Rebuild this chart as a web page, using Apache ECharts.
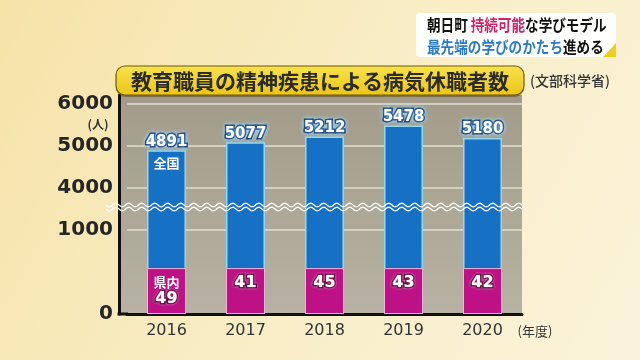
<!DOCTYPE html>
<html><head><meta charset="utf-8">
<script src="https://cdn.jsdelivr.net/npm/echarts@6/dist/echarts.min.js"></script>
<style>html,body{margin:0;padding:0;}#c{width:640px;height:360px;}</style>
</head><body><div id="c"></div>
<script>
// ---- data ----
const YEARS = ['2016', '2017', '2018', '2019', '2020'];
const NATIONAL = [4891, 5077, 5212, 5478, 5180];   // 全国
const PREFECTURE = [49, 41, 45, 43, 42];           // 県内
const Y_TICK_LABELS = ['0', '', '1000', '4000', '5000', '6000']; // at broken-axis units 0,1000,...,5000

// broken axis: 0-1000 drawn double scale, above the break shifted down by 1000
function toAxis(v) { return v <= 1000 ? v * 2 : v - 1000; }
const AXIS_MAX = 5200;
const WAVE_AT = 2540;        // break position in axis units
const PREF_BAR_AXIS = 1090;  // fixed display height of the prefecture segment (not to scale)

const GRID_LEFT = 127, GRID_RIGHT = 118, GRID_TOP = 95, GRID_BOTTOM = 46, Y_OFFSET = 8;
const FONT_JP = '"Noto Sans CJK JP", "Noto Sans", sans-serif';

const chart = echarts.init(document.getElementById('c'));
chart.setOption({
  animation: false,
  backgroundColor: {
    type: 'linear', x: 0, y: 0, x2: 1, y2: 1,
    colorStops: [{offset: 0, color: '#f5e3a8'}, {offset: 0.55, color: '#f9eec8'}, {offset: 1, color: '#fbf3da'}]
  },
  grid: {left: GRID_LEFT, right: GRID_RIGHT, top: GRID_TOP, bottom: GRID_BOTTOM, containLabel: false},
  xAxis: {
    type: 'category', data: YEARS,
    axisLine: {lineStyle: {color: '#111', width: 3}},
    axisTick: {show: false},
    axisLabel: {fontFamily: 'DejaVu Sans', fontSize: 16, color: '#333', margin: 9}
  },
  yAxis: {
    type: 'value', min: 0, max: AXIS_MAX, interval: 1000, offset: Y_OFFSET,
    axisLine: {show: true, lineStyle: {color: '#111', width: 3}},
    axisTick: {show: false},
    axisLabel: {
      fontFamily: 'DejaVu Sans', fontWeight: 'bold', fontSize: 20, color: '#262626', margin: 6,
      formatter: v => { const s = Y_TICK_LABELS[v / 1000]; return s === undefined ? '' : s; }
    },
    splitLine: {show: true, lineStyle: {width: 1.5,
      color: ['rgba(0,0,0,0)', 'rgba(0,0,0,0)', '#e4dfd0', '#e4dfd0', '#e4dfd0', '#e4dfd0', 'rgba(0,0,0,0)']}}
  },
  series: [
    {
      type: 'bar', name: '全国', barWidth: 39, barGap: '-100%', z: 3,
      data: NATIONAL.map(toAxis),
      itemStyle: {color: '#1670c4', borderColor: '#8fd9f3', borderWidth: 1.5},
      label: {
        show: true, position: 'top', distance: 1,
        formatter: p => String(NATIONAL[p.dataIndex]),
        fontFamily: 'DejaVu Sans', fontWeight: 'bold', fontSize: 15, color: '#fff',
        textBorderColor: '#0b2a6e', textBorderWidth: 3,
        textShadowColor: 'rgba(150,225,255,0.95)', textShadowBlur: 4
      },
      markPoint: {
        symbol: 'rect', symbolSize: 1, itemStyle: {color: 'rgba(0,0,0,0)'},
        data: [{coord: [0, toAxis(NATIONAL[0])], label: {
          show: true, position: 'bottom', distance: 6, formatter: '全国',
          fontFamily: FONT_JP, fontWeight: 'bold', fontSize: 13, color: '#fff'}}]
      }
    },
    {
      type: 'bar', name: '県内', barWidth: 39, barGap: '-100%', z: 4,
      data: PREFECTURE.map(() => PREF_BAR_AXIS),
      itemStyle: {color: '#be1186', borderColor: '#f4b3dc', borderWidth: 1},
      label: {
        show: true, position: 'insideTop', distance: 6,
        formatter: p => p.dataIndex === 0 ? '{t|県内}\n{v|' + PREFECTURE[0] + '}' : '{v|' + PREFECTURE[p.dataIndex] + '}',
        rich: {
          t: {fontFamily: FONT_JP, fontWeight: 'bold', fontSize: 13, color: '#fff', lineHeight: 16},
          v: {fontFamily: 'DejaVu Sans', fontWeight: 'bold', fontSize: 16, color: '#fff', lineHeight: 18,
              textBorderColor: '#55002f', textBorderWidth: 3, textShadowColor: 'rgba(255,200,235,0.8)', textShadowBlur: 2}
        }
      }
    }
  ]
});

// decorations positioned from the axes
const yWave = chart.convertToPixel({yAxisIndex: 0}, WAVE_AT);
const yTop = chart.convertToPixel({yAxisIndex: 0}, AXIS_MAX);
const yZero = chart.convertToPixel({yAxisIndex: 0}, 0);
const axisX = GRID_LEFT - Y_OFFSET;
const rightX = 640 - GRID_RIGHT;
function wave(y0, x0, x1) {
  const pts = [];
  for (let x = x0; x <= x1; x += 1) pts.push([x, y0 + 1.8 * Math.sin((x - x0) / 13 * 2 * Math.PI)]);
  return pts;
}
chart.setOption({
  graphic: [
    {type: 'rect', z: -10, silent: true, shape: {x: axisX, y: yTop, width: rightX - axisX, height: yZero - yTop},
     style: {fill: {type: 'linear', x: 0, y: 0, x2: 0, y2: 1,
       colorStops: [{offset: 0, color: '#a29b89'}, {offset: 1, color: '#b7b2a3'}]}}},
    {type: 'line', z: 50, shape: {x1: axisX - 1.5, y1: yZero, x2: GRID_LEFT + 1, y2: yZero}, style: {stroke: '#111', lineWidth: 3}},
    {type: 'polyline', z: 100, shape: {points: wave(yWave - 2, 106, rightX)}, style: {stroke: '#fff', lineWidth: 1.3, fill: null}},
    {type: 'polyline', z: 100, shape: {points: wave(yWave + 2, 106, rightX)}, style: {stroke: '#fff', lineWidth: 1.3, fill: null}},
    // title bar
    {type: 'rect', z: 20, shape: {x: 116, y: 68, width: 408, height: 29, r: 9},
     style: {fill: 'rgba(90,70,10,0.5)'}},
    {type: 'rect', z: 21, shape: {x: 116, y: 66, width: 408, height: 29, r: 9},
     style: {fill: {type: 'linear', x: 0, y: 0, x2: 0, y2: 1,
       colorStops: [{offset: 0, color: '#f8e24c'}, {offset: 1, color: '#ecc515'}]}, stroke: '#6a5812', lineWidth: 1.2}},
    {type: 'text', z: 22, style: {x: 320, y: 81, text: '教育職員の精神疾患による病気休職者数', align: 'center', verticalAlign: 'middle',
       font: 'bold 21px ' + FONT_JP, fill: '#2b2b2b'}},
    {type: 'text', z: 22, style: {x: 530, y: 81, text: '(文部科学省)', align: 'left', verticalAlign: 'middle',
       font: '500 14px ' + FONT_JP, fill: '#333'}},
    {type: 'text', z: 22, style: {x: 98, y: 124, text: '(人)', align: 'center', verticalAlign: 'middle',
       font: 'bold 12px ' + FONT_JP, fill: '#333'}},
    {type: 'text', z: 22, style: {x: 535, y: 331, text: '(年度)', align: 'center', verticalAlign: 'middle',
       font: '13px ' + FONT_JP, fill: '#333'}},
    // caption box top right
    {type: 'rect', z: 20, shape: {x: 416, y: 13, width: 200, height: 44, r: 3}, style: {fill: 'rgba(255,255,255,0.96)'}},
    {type: 'polygon', z: 21, shape: {points: [[603, 57], [616, 43], [616, 57]]}, style: {fill: '#efcf1e'}},
    {type: 'text', z: 22, x: 427, y: 25, scaleX: 0.85, style: {x: 0, y: 0, verticalAlign: 'middle',
       text: '{k|朝日町} {r|持続可能}{k|な学びモデル}',
       rich: {k: {font: 'bold 16px ' + FONT_JP, fill: '#111'}, r: {font: 'bold 16px ' + FONT_JP, fill: '#d2226b'}}}},
    {type: 'text', z: 22, x: 427, y: 47, scaleX: 0.85, style: {x: 0, y: 0, verticalAlign: 'middle',
       text: '{b|最先端の学びのかたち}{k|進める}',
       rich: {k: {font: 'bold 16px ' + FONT_JP, fill: '#111'}, b: {font: 'bold 16px ' + FONT_JP, fill: '#2a7bc4'}}}}
  ]
});
</script></body></html>
